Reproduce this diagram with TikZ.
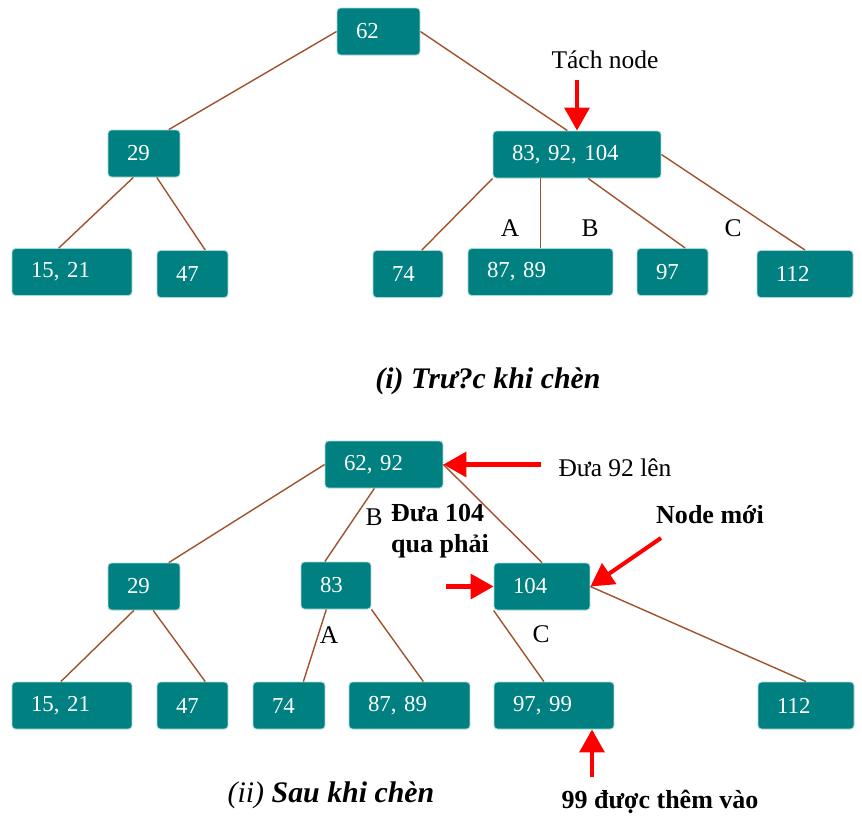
\documentclass[tikz,border=0pt]{standalone}
\usepackage{fontspec}
\setmainfont{Liberation Serif}
\usetikzlibrary{arrows.meta}
\definecolor{boxteal}{HTML}{008080}
\definecolor{boxrim}{HTML}{A8D8D8}
\definecolor{linkbrown}{HTML}{A0522D}
\definecolor{markred}{HTML}{FF0000}

\begin{document}
\begin{tikzpicture}[x=0.02cm, y=-0.02cm]
			\tikzset{box/.style = {shape=rectangle, rounded corners=2pt, fill=boxteal, draw=boxrim, line width=0.5pt,
				text=white, align=left, inner xsep=0.38cm, minimum height=0.94cm, font=\fontsize{13}{14}\selectfont}}
			\tikzset{bw/.style = {text width=#1cm}}
			\tikzset{edge/.style = {draw=linkbrown, line width=0.8pt}}
			\tikzset{redarrow/.style = {-{Triangle[length=13pt,width=14pt]}, draw=markred, fill=markred, line width=2.3pt}}
			\tikzset{lbl/.style = {font=\fontsize{14.5}{16}\selectfont}}
			\tikzset{note/.style = {font=\fontsize{14.8}{18}\selectfont\bfseries, align=left}}
			\tikzset{caption/.style = {font=\fontsize{17}{20}\selectfont\bfseries\itshape}}
			\useasboundingbox (0,0) rectangle (862,816);
			% (i) vertices
			\node[box, bw=0.9] (t62) at (378.5, 31.5) {62};
			\node[box, bw=0.68] (t29) at (144, 153.5) {29};
			\node[box, bw=2.6] (tmid) at (577, 154.5) {83, 92, 104};
			\node[box, bw=1.64] (t1521) at (72, 272) {15, 21};
			\node[box, bw=0.66] (t47) at (192.5, 274) {47};
			\node[box, bw=0.64] (t74) at (408, 274) {74};
			\node[box, bw=2.14] (t8789) at (540.5, 272) {87, 89};
			\node[box, bw=0.66] (t97) at (672.5, 272) {97};
			\node[box, bw=1.16] (t112) at (805, 274) {112};
			% (i) edges
			\draw[edge] (t62.west) -- (t29.44);
			\draw[edge] (t62.east) -- (tmid.112);
			\draw[edge] (t29.246) -- (t1521.119);
			\draw[edge] (t29.-62) -- (t47.62);
			\draw[edge] (tmid.south west) -- (t74.60);
			\draw[edge] (t8789.north |- tmid.south) -- (t8789.north);
			\draw[edge] (tmid.-65) -- (t97.62);
			\draw[edge] (tmid.east) -- (t112.north);
			\node[lbl] (ta) at (510, 228) {A};
			\node[lbl] (tb) at (590, 228) {B};
			\node[lbl] (tc) at (733, 228) {C};
			% split mark
			\node[lbl] (tach) at (605, 60) {Tách node};
			\coordinate (tachtail) at (577, 80);
			\draw[redarrow] (tachtail) -- (tmid.north);
			\node[caption] (cap1) at (488, 381) {(i) Trư?c khi chèn};
			% (ii) vertices
			\node[box, bw=1.6] (b6292) at (384, 464.5) {62, 92};
			\node[box, bw=0.68] (b29) at (144, 586.5) {29};
			\node[box, bw=0.64] (b83) at (336, 585.5) {83};
			\node[box, bw=1.16] (b104) at (542, 586.5) {104};
			\node[box, bw=1.64] (b1521) at (72, 705.5) {15, 21};
			\node[box, bw=0.66] (b47) at (192.5, 705.5) {47};
			\node[box, bw=0.68] (b74) at (289, 705.5) {74};
			\node[box, bw=1.66] (b8789) at (409.5, 705.5) {87, 89};
			\node[box, bw=1.64] (b9799) at (554, 705.5) {97, 99};
			\node[box, bw=1.16] (b112) at (806, 705.5) {112};
			% (ii) edges
			\draw[edge] (b6292.west) -- (b29.44);
			\draw[edge] (b6292.248) -- (b83.115);
			\draw[edge] (b6292.east) -- (b104.north);
			\draw[edge] (b29.247) -- (b1521.115);
			\draw[edge] (b29.-69) -- (b47.62);
			\draw[edge] (b83.248) -- (b74.59);
			\draw[edge] (b83.south east) -- (b8789.60);
			\draw[edge] (b104.south west) -- (b9799.113);
			\draw[edge] (b104.east) -- (b112.north);
			\node[lbl] (bb) at (374, 517) {B};
			\node[lbl] (ba) at (329, 635) {A};
			\node[lbl] (bc) at (541, 634) {C};
			% (ii) marks
			\node[lbl] (up92) at (615, 468) {Đưa 92 lên};
			\coordinate (up92tail) at (541, 464.5);
			\draw[redarrow] (up92tail) -- (b6292.east);
			\node[note] (move104) at (440, 531) {Đưa  104\\qua phải};
			\coordinate (move104tail) at (446, 586.5);
			\draw[redarrow] (move104tail) -- (b104.west);
			\node[note] (newnode) at (710, 515) {Node mới};
			\coordinate (newtail) at (661, 538);
			\draw[redarrow] (newtail) -- (b104.east);
			\coordinate (add99tail) at (592, 777);
			\draw[redarrow] (add99tail) -- (add99tail |- b9799.south);
			\node[note] (add99) at (660, 802) {99 được thêm vào};
			\node[caption] (cap2) at (331, 795) {{\mdseries (ii)} Sau khi chèn};
		\end{tikzpicture}
\end{document}
